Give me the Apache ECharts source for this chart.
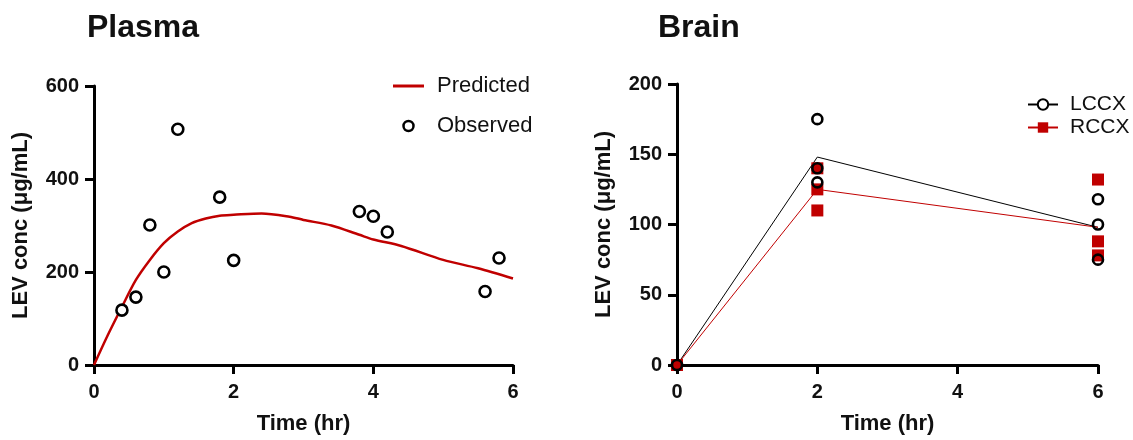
<!DOCTYPE html>
<html><head><meta charset="utf-8">
<script src="https://cdn.jsdelivr.net/npm/echarts@6/dist/echarts.min.js"></script>
<style>html,body{margin:0;padding:0;background:#fff}#c{width:1133px;height:440px}</style>
</head><body><div id="c"></div>
<script>
// Plasma
var plasmaObsTime = [0.4, 0.6, 0.8, 1.0, 1.2, 1.8, 2.0, 3.8, 4.0, 4.2, 5.6, 5.8];
var plasmaObsConc = [118, 146, 301, 200, 507, 361, 225, 330, 320, 286, 158, 230];
var predTime = [0, 0.2, 0.4, 0.6, 0.8, 1.0, 1.2, 1.4, 1.6, 1.8, 2.0, 2.4, 2.8, 3.0, 3.4, 3.8, 4.0, 4.4, 5.0, 5.5, 6.0];
var predConc = [0, 65, 125, 183, 226, 262, 287, 305, 315, 321, 323, 326, 319, 312, 300, 280, 270, 256, 226, 208, 186];
// Brain
var brainTime = [0, 2, 6];
var lccxTime = [0, 2, 2, 2, 6, 6, 6];
var lccxConc = [0, 175, 140, 130, 118, 100, 75];
var rccxTime = [0, 2, 2, 2, 6, 6, 6];
var rccxConc = [0, 140, 125, 110, 132, 88, 78];
var lccxMean = [0, 148, 98];
var rccxMean = [0, 125, 98];

var RED = '#c00000';
var FONT = 'Liberation Sans, Arial, sans-serif';
var INK = '#111';
function pairs(a, b) { return a.map(function (v, i) { return [v, b[i]]; }); }

function xAx(gi) {
  return {
    type: 'value', gridIndex: gi, min: 0, max: 6, interval: 2,
    name: 'Time (hr)', nameLocation: 'middle', nameGap: 48,
    nameTextStyle: { fontFamily: FONT, fontWeight: 'bold', fontSize: 22, color: INK },
    axisLine: { show: true, onZero: false, lineStyle: { color: '#000', width: 3 } },
    axisTick: { show: true, length: 9, lineStyle: { color: '#000', width: 3 } },
    axisLabel: { fontFamily: FONT, fontWeight: 'bold', fontSize: 20, color: INK, margin: 17 },
    splitLine: { show: false }
  };
}
function yAx(gi, max, iv) {
  return {
    type: 'value', gridIndex: gi, min: 0, max: max, interval: iv,
    name: 'LEV conc (μg/mL)', nameLocation: 'middle', nameGap: 62,
    nameTextStyle: { fontFamily: FONT, fontWeight: 'bold', fontSize: 22, color: INK },
    axisLine: { show: true, lineStyle: { color: '#000', width: 3 } },
    axisTick: { show: true, length: 9, lineStyle: { color: '#000', width: 3 } },
    axisLabel: { fontFamily: FONT, fontWeight: 'bold', fontSize: 20, color: INK, margin: 15 },
    splitLine: { show: false }
  };
}

var chart = echarts.init(document.getElementById('c'), null, { renderer: 'canvas' });
chart.setOption({
  animation: false,
  backgroundColor: '#fff',
  title: [
    { text: 'Plasma', left: 87, top: 12, padding: 0, textStyle: { fontFamily: FONT, fontWeight: 'bold', fontSize: 32, color: INK } },
    { text: 'Brain', left: 658, top: 12, padding: 0, textStyle: { fontFamily: FONT, fontWeight: 'bold', fontSize: 32, color: INK } }
  ],
  grid: [
    { left: 94, right: 620, top: 86, bottom: 74 },
    { left: 677, right: 35, top: 84, bottom: 74 }
  ],
  legend: [
    { data: [{ name: 'Predicted', icon: 'path://M0,0L31,0L31,3L0,3Z' },
             { name: 'Observed', icon: 'circle', itemStyle: { color: '#fff', borderColor: '#000', borderWidth: 2.5 } }],
      orient: 'vertical', left: 388, top: 70, itemWidth: 31, itemHeight: 10, itemGap: 18,
      textStyle: { fontFamily: FONT, fontSize: 22, color: INK, padding: [0, 0, 0, 8] } },
    { data: ['LCCX', 'RCCX'], orient: 'vertical', left: 1022, top: 89, itemWidth: 30, itemHeight: 13, itemGap: 2,
      textStyle: { fontFamily: FONT, fontSize: 21, color: INK, padding: [0, 0, 0, 7] } }
  ],
  xAxis: [xAx(0), xAx(1)],
  yAxis: [yAx(0, 600, 200), yAx(1, 200, 50)],
  series: [
    { name: 'Predicted', type: 'line', xAxisIndex: 0, yAxisIndex: 0, smooth: 0.3, symbol: 'none',
      data: pairs(predTime, predConc), lineStyle: { color: RED, width: 2.5 }, itemStyle: { color: RED }, z: 2 },
    { name: 'Observed', type: 'scatter', xAxisIndex: 0, yAxisIndex: 0, symbol: 'circle', symbolSize: 11,
      data: pairs(plasmaObsTime, plasmaObsConc), itemStyle: { color: '#fff', borderColor: '#000', borderWidth: 2.6, opacity: 1 }, z: 3 },
    { name: 'LCCX', type: 'line', xAxisIndex: 1, yAxisIndex: 1, symbol: 'emptyCircle', showSymbol: false, symbolSize: 10,
      data: pairs(brainTime, lccxMean), lineStyle: { color: '#000', width: 1 }, itemStyle: { color: '#000' }, z: 2 },
    { name: 'RCCX', type: 'line', xAxisIndex: 1, yAxisIndex: 1, symbol: 'rect', showSymbol: false, symbolSize: 12,
      data: pairs(brainTime, rccxMean), lineStyle: { color: RED, width: 1 }, itemStyle: { color: RED }, z: 2 },
    { name: 'RCCX', type: 'scatter', xAxisIndex: 1, yAxisIndex: 1, symbol: 'rect', symbolSize: 12,
      data: pairs(rccxTime, rccxConc), itemStyle: { color: RED, opacity: 1 }, z: 3 },
    { name: 'LCCX', type: 'scatter', xAxisIndex: 1, yAxisIndex: 1, symbol: 'circle', symbolSize: 10,
      data: pairs(lccxTime, lccxConc), itemStyle: { color: 'rgba(0,0,0,0)', borderColor: '#000', borderWidth: 2.6, opacity: 1 }, z: 4 }
  ]
});
</script></body></html>
